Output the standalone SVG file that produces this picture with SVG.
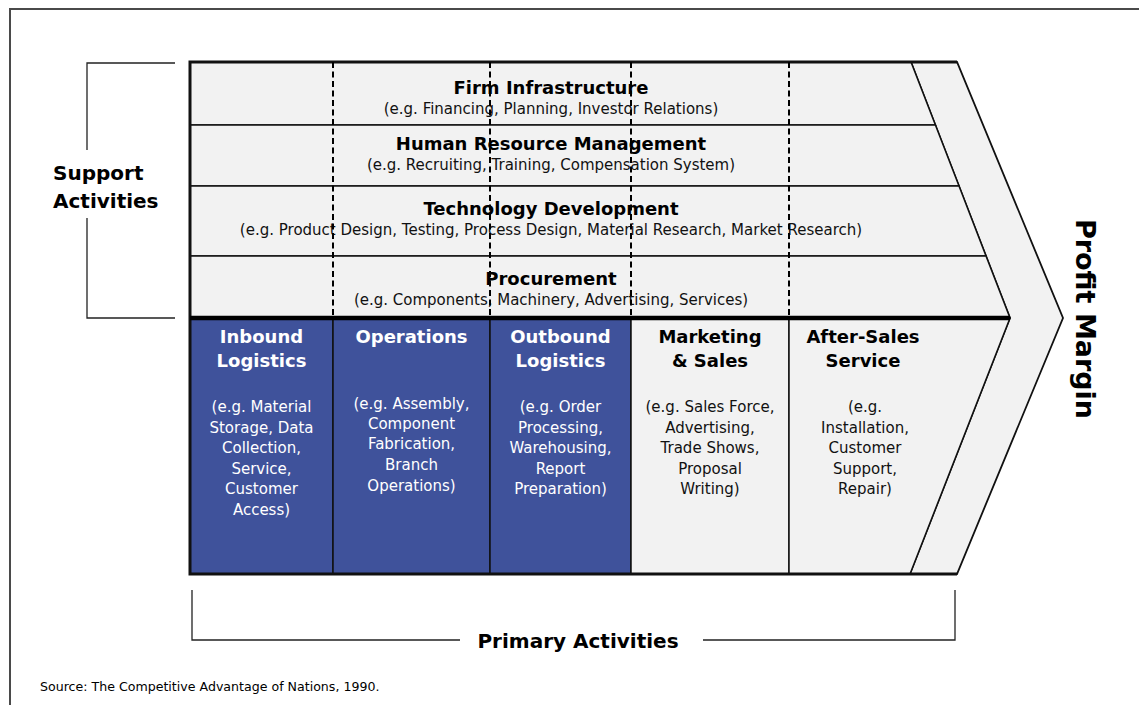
<svg xmlns="http://www.w3.org/2000/svg" width="1139" height="705" viewBox="0 0 1139 705">
  <style>
    .bg { fill: #ffffff; }
    .frame { fill: none; stroke: #4a4a4a; stroke-width: 2; }
    .cell { fill: #f2f2f2; stroke: #111; stroke-width: 1.5; }
    .blue { fill: #3f529b; stroke: #111; stroke-width: 1.5; }
    .band { fill: #f2f2f2; stroke: #111; stroke-width: 1.8; stroke-linejoin: miter; }
    .edge { fill: none; stroke: #111; stroke-width: 3; }
    .divider { fill: none; stroke: #000; stroke-width: 4.5; }
    .dash { fill: none; stroke: #000; stroke-width: 2; stroke-dasharray: 6 3.5; }
    .bracket { fill: none; stroke: #222; stroke-width: 1.3; }
    .title { font-family: "DejaVu Sans", Verdana, sans-serif; font-weight: bold; font-size: 18px; text-anchor: middle; fill: #000; }
    .sub { font-family: "DejaVu Sans", Verdana, sans-serif; font-size: 15px; text-anchor: middle; fill: #111; }
    .w { fill: #ffffff; }
    .big { font-family: "DejaVu Sans", Verdana, sans-serif; font-weight: bold; font-size: 20px; fill: #000; }
    .src { font-family: "DejaVu Sans", Verdana, sans-serif; font-size: 12.6px; fill: #000; }
  </style>

  <rect class="bg" x="0" y="0" width="1139" height="705"/>
  <!-- page frame -->
  <path class="frame" d="M10,705 V9 H1139"/>

  <!-- margin chevron band -->
  <g id="profit-margin">
    <polygon class="band" points="911,62 957,62 1063,318 957,574 910,574 1010,318"/>
    <text class="big" style="font-size:27px" text-anchor="middle" transform="translate(1076,319) rotate(90)">Profit Margin</text>
  </g>

  <!-- support activities -->
  <g id="firm-infrastructure">
    <polygon class="cell" points="190,62 911,62 935.4,125 190,125"/>
    <text class="title" x="551" y="94">Firm Infrastructure</text>
    <text class="sub" x="551" y="114">(e.g. Financing, Planning, Investor Relations)</text>
  </g>
  <g id="human-resource-management">
    <polygon class="cell" points="190,125 935.4,125 959,186 190,186"/>
    <text class="title" x="551" y="150">Human Resource Management</text>
    <text class="sub" x="551" y="170">(e.g. Recruiting, Training, Compensation System)</text>
  </g>
  <g id="technology-development">
    <polygon class="cell" points="190,186 959,186 986,256 190,256"/>
    <text class="title" x="551" y="215">Technology Development</text>
    <text class="sub" x="551" y="235">(e.g. Product Design, Testing, Process Design, Material Research, Market Research)</text>
  </g>
  <g id="procurement">
    <polygon class="cell" points="190,256 986,256 1010,318 190,318"/>
    <text class="title" x="551" y="285">Procurement</text>
    <text class="sub" x="551" y="305">(e.g. Components, Machinery, Advertising, Services)</text>
  </g>

  <!-- primary activities -->
  <g id="inbound-logistics">
    <rect class="blue" x="190" y="318" width="143" height="256"/>
    <text class="title w" x="261.5" y="343">Inbound</text>
    <text class="title w" x="261.5" y="367">Logistics</text>
    <text class="sub w" x="261.5" y="412">(e.g. Material</text>
    <text class="sub w" x="261.5" y="433">Storage, Data</text>
    <text class="sub w" x="261.5" y="453">Collection,</text>
    <text class="sub w" x="261.5" y="474">Service,</text>
    <text class="sub w" x="261.5" y="494">Customer</text>
    <text class="sub w" x="261.5" y="515">Access)</text>
  </g>
  <g id="operations">
    <rect class="blue" x="333" y="318" width="157" height="256"/>
    <text class="title w" x="411.5" y="343">Operations</text>
    <text class="sub w" x="411.5" y="409">(e.g. Assembly,</text>
    <text class="sub w" x="411.5" y="429">Component</text>
    <text class="sub w" x="411.5" y="449">Fabrication,</text>
    <text class="sub w" x="411.5" y="470">Branch</text>
    <text class="sub w" x="411.5" y="491">Operations)</text>
  </g>
  <g id="outbound-logistics">
    <rect class="blue" x="490" y="318" width="141" height="256"/>
    <text class="title w" x="560.5" y="343">Outbound</text>
    <text class="title w" x="560.5" y="367">Logistics</text>
    <text class="sub w" x="560.5" y="412">(e.g. Order</text>
    <text class="sub w" x="560.5" y="433">Processing,</text>
    <text class="sub w" x="560.5" y="453">Warehousing,</text>
    <text class="sub w" x="560.5" y="474">Report</text>
    <text class="sub w" x="560.5" y="494">Preparation)</text>
  </g>
  <g id="marketing-sales">
    <rect class="cell" x="631" y="318" width="158" height="256"/>
    <text class="title" x="710" y="343">Marketing</text>
    <text class="title" x="710" y="367">&amp; Sales</text>
    <text class="sub" x="710" y="412">(e.g. Sales Force,</text>
    <text class="sub" x="710" y="433">Advertising,</text>
    <text class="sub" x="710" y="453">Trade Shows,</text>
    <text class="sub" x="710" y="474">Proposal</text>
    <text class="sub" x="710" y="494">Writing)</text>
  </g>
  <g id="after-sales-service">
    <polygon class="cell" points="789,318 1010,318 910,574 789,574"/>
    <text class="title" x="863" y="343">After-Sales</text>
    <text class="title" x="863" y="367">Service</text>
    <text class="sub" x="865" y="412">(e.g.</text>
    <text class="sub" x="865" y="433">Installation,</text>
    <text class="sub" x="865" y="453">Customer</text>
    <text class="sub" x="865" y="474">Support,</text>
    <text class="sub" x="865" y="494">Repair)</text>
  </g>

  <!-- chain outline and separators -->
  <g id="connectors">
    <path class="edge" d="M957,62 H190 V574 H957"/>
    <path class="divider" d="M190,318 H1010"/>
    <path class="dash" d="M333,62 V318 M490,62 V318 M631,62 V318 M789,62 V318"/>
    <!-- support bracket -->
    <path class="bracket" d="M175,63 H87 V150 M87,218 V318 H175"/>
    <!-- primary bracket -->
    <path class="bracket" d="M192,590 V640 H460 M703,640 H955 V590"/>
  </g>

  <g id="support-label">
    <text class="big" x="53" y="180">Support</text>
    <text class="big" x="53" y="208">Activities</text>
  </g>
  <g id="primary-label">
    <text class="big" x="578" y="648" text-anchor="middle">Primary Activities</text>
  </g>

  <text class="src" x="40" y="691">Source: The Competitive Advantage of Nations, 1990.</text>
</svg>
